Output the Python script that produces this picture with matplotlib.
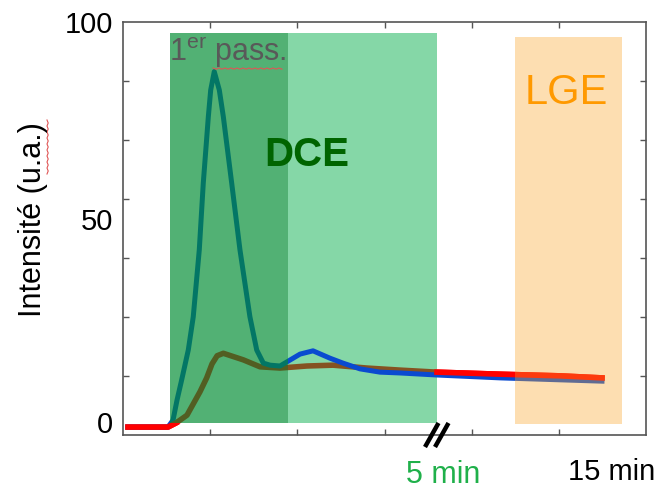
"""Courbes de rehaussement : premier passage, DCE et LGE."""

import matplotlib.pyplot as plt
import numpy as np

plt.rcParams["font.family"] = ["Liberation Sans", "DejaVu Sans"]
plt.rcParams["mathtext.fontset"] = "custom"
plt.rcParams["mathtext.rm"] = "Liberation Sans"

W, H = 662, 493

# time axis in arbitrary units (axis spans 0-600, broken after the DCE window)
t_blue = [5.7, 51.6, 57.4, 62.0, 67.3, 74.9, 80.6, 87.5, 92.1, 97.9, 100.6, 104.7,
          110.5, 115.1, 124.7, 134.2, 145.6, 153.4, 161.0, 168.8, 180.1, 203.1,
          218.0, 237.5, 252.4, 271.9, 294.8, 317.8, 360.2, 432.5, 549.5]
v_blue = [1.2, 1.2, 2.9, 7.8, 12.7, 20.0, 28.1, 44.4, 60.7, 76.9, 83.4, 87.9,
          83.4, 76.9, 60.7, 44.4, 28.1, 20.0, 16.8, 16.3, 16.1, 19.0,
          19.8, 18.0, 16.8, 15.4, 14.6, 14.4, 13.9, 13.2, 12.4]

t_red = [5.7, 51.6, 60.8, 73.4, 88.3, 96.0, 102.1, 108.0, 115.1, 138.0, 157.2,
         180.1, 211.1, 240.9, 279.9, 317.8, 360.2, 432.5, 501.3, 549.5]
v_red = [1.2, 1.2, 2.2, 4.1, 9.8, 13.2, 16.6, 18.6, 19.2, 17.6, 15.9,
         15.6, 16.1, 16.3, 15.6, 15.1, 14.6, 14.1, 13.7, 13.2]

# shaded windows (time units, intensity)
PASS_WIN = (53.9, 189.3)
DCE_WIN = (189.3, 360.2)
LGE_WIN = (449.7, 572.5)
WIN_Y = (2.2, 97.3)
YLIM = (-0.73, 100)


def px(x, y):
    return x / W, 1 - y / H


fig = plt.figure(figsize=(W / 100, H / 100), dpi=100)
ax = fig.add_axes([123 / W, 1 - 435 / H, 523 / W, 413 / H])
ax.set_xlim(0, 600)
ax.set_ylim(*YLIM)

tr = np.array(t_red)
vr = np.array(v_red)
ax.plot(tr, vr, color="#ff0000", lw=4.0, zorder=1)
ax.fill_between(DCE_WIN, WIN_Y[0], WIN_Y[1], color=(0.0, 0.68, 0.28), alpha=0.48, lw=0, zorder=2)
ax.plot(t_blue, v_blue, color="#0a4ad0", lw=3.6, zorder=3)
# the red trace stays on top of the blue one outside the shaded windows
head = np.arange(len(tr)) <= np.searchsorted(tr, PASS_WIN[0])
tail = tr >= DCE_WIN[1]
ax.plot(tr[head], vr[head], color="#ff0000", lw=4.0, zorder=3.5)
ax.plot(tr[tail], vr[tail], color="#ff0000", lw=4.0, zorder=3.5)
ax.fill_between(PASS_WIN, WIN_Y[0], WIN_Y[1], color=(0.0, 0.55, 0.2), alpha=0.68, lw=0, zorder=4)
ax.fill_between(LGE_WIN, 2.0, 96.3, color=(0.98, 0.65, 0.16), alpha=0.36, lw=0, zorder=5)

# tick marks only: 6 divisions on x, 7 on y
ax.set_xticks(np.arange(100, 600, 100))
ax.set_yticks(np.linspace(YLIM[0], YLIM[1], 8)[1:-1])
ax.tick_params(direction="in", length=4, width=1, color="#555555",
               top=True, right=True, labelbottom=False, labelleft=False)
for spine in ax.spines.values():
    spine.set_color("#555555")
    spine.set_linewidth(1.2)

# y labels and axis title
for label, y in [("100", 25), ("50", 222), ("0", 425)]:
    fig.text(*px(113, y), label, ha="right", va="center", fontsize=21)
fig.text(*px(33, 220), "Intensité (u.a.)", rotation=90, ha="center", va="center", fontsize=22)

# x labels and axis break
fig.text(*px(443, 475), "5 min", ha="center", va="center", fontsize=22, color="#1fb04a")
fig.text(*px(612, 472), "15 min", ha="center", va="center", fontsize=21)
for x0 in (425, 435):
    fig.add_artist(plt.Line2D([x0 / W, (x0 + 13.5) / W], [1 - 447 / H, 1 - 423 / H],
                              color="black", lw=3.2, solid_capstyle="butt"))

# window captions
fig.text(*px(228, 53), r"1$^{\mathrm{er}}$ pass.", ha="center", va="center",
         fontsize=22, color="#595959", zorder=6)
fig.text(*px(307, 155), "DCE", ha="center", va="center", fontsize=29,
         fontweight="bold", color="#006400", zorder=6)
fig.text(*px(566, 93), "LGE", ha="center", va="center", fontsize=30,
         color="#ff9900", zorder=6)

# spell-check squiggles from the source slide
zx = np.arange(213, 284, 3)
fig.add_artist(plt.Line2D(zx / W, 1 - (68 + 1.2 * (np.arange(len(zx)) % 2)) / H,
                          color="#e05555", lw=0.8))
zy = np.arange(120, 176, 3)
fig.add_artist(plt.Line2D((47 + 1.2 * (np.arange(len(zy)) % 2)) / W, 1 - zy / H,
                          color="#e05555", lw=0.8))

fig.savefig("out.png", dpi=100)
